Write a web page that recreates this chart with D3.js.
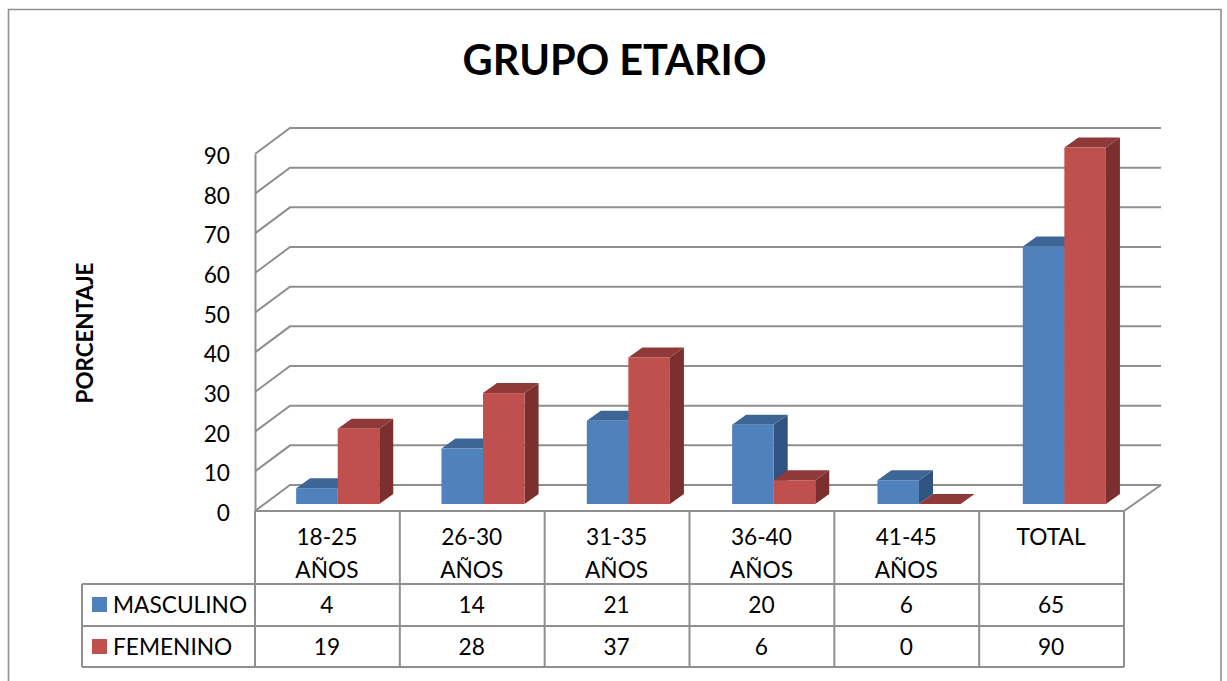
<!DOCTYPE html>
<html>
<head>
<meta charset="utf-8">
<script src="https://cdn.jsdelivr.net/npm/d3@7"></script>
<style>
html,body{margin:0;padding:0;background:#fff;overflow:hidden}
svg{display:block}
text{font-family:Lato,"Open Sans",sans-serif;fill:#000}
</style>
</head>
<body>
<svg id="chart" width="1227" height="681"></svg>
<script>
const chartTitle = "GRUPO ETARIO";
const yAxisTitle = "PORCENTAJE";
const categories = ["18-25|AÑOS", "26-30|AÑOS", "31-35|AÑOS", "36-40|AÑOS", "41-45|AÑOS", "TOTAL"];
const masculino = [4, 14, 21, 20, 6, 65];
const femenino = [19, 28, 37, 6, 0, 90];
const yTicks = [0, 10, 20, 30, 40, 50, 60, 70, 80, 90];
const seriesNames = ["MASCULINO", "FEMENINO"];
const seriesColors = [
  {front: "#4f81bd", top: "#3d6595", side: "#30537f"},
  {front: "#c0504d", top: "#8f3a38", side: "#7b2f2e"}
];

const svg = d3.select("#chart");
const gridColor = "#8f8f8f";

// Outer frame, open at the bottom edge
svg.append("path")
  .attr("d", "M8.5,681V9.5H1221V681")
  .attr("fill", "none").attr("stroke", "#8f8f8f").attr("stroke-width", 1.6);

svg.append("text").attr("x", 614.5).attr("y", 75)
  .attr("text-anchor", "middle").attr("font-size", 41.5).attr("font-weight", 700)
  .text(chartTitle);

svg.append("text")
  .attr("transform", "translate(93,333) rotate(-90)")
  .attr("text-anchor", "middle").attr("font-size", 22.4).attr("font-weight", 700)
  .text(yAxisTitle);

// Scales: the table columns and front plane, and the slightly deeper plane the bars stand on
const x = d3.scaleBand().domain(categories).range([255, 1124]);
const xBar = d3.scaleBand().domain(categories).range([255, 1127]);
const y = d3.scaleLinear().domain([0, 90]).range([511, 154]);
const yBar = d3.scaleLinear().domain([0, 90]).range([504, 147.5]);
const depth = {dx: 35, dy: -26};
const barDepth = {dx: 14, dy: -10};
const barInset = xBar.bandwidth() * 0.283;
const barWidth = xBar.bandwidth() * 0.286;

// Floor outline and back wall
const grid = svg.append("g").attr("fill", "none").attr("stroke", gridColor).attr("stroke-width", 2);
grid.selectAll("path.wall").data(yTicks).join("path")
  .attr("class", "wall")
  .attr("d", d => `M${x.range()[0]},${y(d)}l${depth.dx},${depth.dy}H1161`);
grid.append("path")
  .attr("d", `M1161,${y(0) + depth.dy}L${x.range()[1]},${y(0)}`);

// Bars, blue series first so the red front faces overlap them
const drawBars = (values, idx) => {
  const c = seriesColors[idx];
  const g = svg.append("g");
  values.forEach((v, i) => {
    const x0 = xBar(categories[i]) + barInset + idx * barWidth;
    const x1 = x0 + barWidth;
    const yt = yBar(v), yb = yBar(0);
    const {dx, dy} = barDepth;
    g.append("path").attr("fill", c.side)
      .attr("d", `M${x1},${yt}l${dx},${dy}V${yb + dy}L${x1},${yb}Z`);
    g.append("path").attr("fill", c.top)
      .attr("d", `M${x0},${yt}l${dx},${dy}H${x1 + dx}L${x1},${yt}Z`);
    if (v > 0) g.append("rect").attr("fill", c.front)
      .attr("x", x0).attr("y", yt).attr("width", barWidth).attr("height", yb - yt);
  });
};
drawBars(masculino, 0);
drawBars(femenino, 1);

// Value axis
const axis = svg.append("g").attr("transform", `translate(${x.range()[0]},0)`)
  .call(d3.axisLeft(y).tickValues(yTicks).tickSize(0).tickPadding(25));
axis.select(".domain").attr("stroke", gridColor).attr("stroke-width", 2);
axis.selectAll("text").attr("font-size", 22.7).attr("dy", "0.42em").style("font-family", "Lato");

// Data table under the plot
const rows = [584, 626, 667];
const table = svg.append("g").attr("stroke", gridColor).attr("stroke-width", 2);
const edges = [...categories.map(c => x(c)), x.range()[1]];
table.selectAll("line.v").data(edges).join("line").attr("class", "v")
  .attr("x1", d => d).attr("x2", d => d).attr("y1", y(0)).attr("y2", rows[2]);
table.append("line").attr("x1", x.range()[0]).attr("x2", x.range()[1]).attr("y1", y(0)).attr("y2", y(0));
table.selectAll("line.h").data(rows).join("line").attr("class", "h")
  .attr("x1", 82).attr("x2", x.range()[1]).attr("y1", d => d).attr("y2", d => d);
table.append("line").attr("x1", 82).attr("x2", 82).attr("y1", rows[0]).attr("y2", rows[2]);

const cx = c => x(c) + x.bandwidth() / 2;
categories.forEach(c => {
  c.split("|").forEach((line, i) => {
    svg.append("text").attr("x", cx(c) - 0.5).attr("y", 545 + i * 33)
      .attr("text-anchor", "middle").attr("font-size", 22.7).text(line);
  });
});
[masculino, femenino].forEach((vals, r) => {
  const base = rows[r] + 29;
  svg.append("rect").attr("x", 92).attr("y", rows[r] + 13).attr("width", 15).attr("height", 15)
    .attr("fill", seriesColors[r].front);
  svg.append("text").attr("x", 113).attr("y", base).attr("font-size", 22.7).text(seriesNames[r]);
  vals.forEach((v, i) => {
    svg.append("text").attr("x", cx(categories[i]) - 0.5).attr("y", base)
      .attr("text-anchor", "middle").attr("font-size", 22.7).text(v);
  });
});
</script>
</body>
</html>
